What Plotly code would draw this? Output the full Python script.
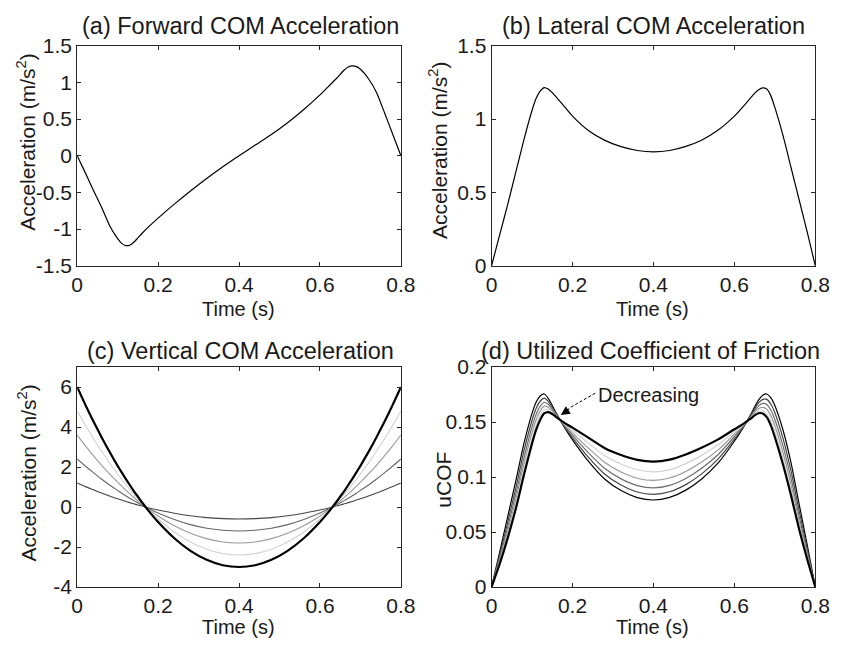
import plotly.graph_objects as go

# ---------------- data ----------------
time_s = [0, 0.02, 0.04, 0.06, 0.08, 0.10, 0.11, 0.12, 0.13, 0.14, 0.15, 0.16, 0.18, 0.20,
          0.24, 0.28, 0.32, 0.36, 0.40, 0.44, 0.48, 0.52, 0.56, 0.60, 0.62, 0.64, 0.65,
          0.66, 0.67, 0.68, 0.69, 0.70, 0.72, 0.74, 0.76, 0.78, 0.80]

forward_acc = [0, -0.23, -0.47, -0.70, -0.95, -1.13, -1.195, -1.225, -1.22, -1.18, -1.12, -1.06,
               -0.95, -0.85, -0.66, -0.48, -0.31, -0.15, 0.0, 0.145, 0.29, 0.45, 0.63, 0.83,
               0.94, 1.05, 1.11, 1.17, 1.21, 1.225, 1.215, 1.18, 1.05, 0.86, 0.58, 0.29, 0]

lateral_acc = [0, 0.21, 0.42, 0.64, 0.86, 1.06, 1.14, 1.19, 1.215, 1.205, 1.18, 1.15, 1.085,
               1.02, 0.92, 0.855, 0.812, 0.786, 0.776, 0.786, 0.814, 0.858, 0.925, 1.02, 1.08,
               1.145, 1.175, 1.20, 1.213, 1.205, 1.16, 1.08, 0.89, 0.67, 0.45, 0.23, 0]

# vertical COM acceleration, five scaled profiles (thin ones first, thick last)
vert_acc_20 = [1.2, 1.02, 0.86, 0.70, 0.55, 0.41, 0.35, 0.28, 0.22, 0.16, 0.10, 0.05, -0.06,
               -0.15, -0.31, -0.44, -0.53, -0.58, -0.60, -0.58, -0.53, -0.44, -0.31, -0.15,
               -0.06, 0.05, 0.10, 0.16, 0.22, 0.28, 0.35, 0.41, 0.55, 0.70, 0.86, 1.02, 1.2]
vert_acc_40 = [2.4, 2.05, 1.72, 1.40, 1.10, 0.83, 0.69, 0.56, 0.44, 0.32, 0.21, 0.10, -0.11,
               -0.30, -0.62, -0.88, -1.06, -1.16, -1.20, -1.16, -1.06, -0.88, -0.62, -0.30,
               -0.11, 0.10, 0.21, 0.32, 0.44, 0.56, 0.69, 0.83, 1.10, 1.40, 1.72, 2.05, 2.4]
vert_acc_60 = [3.6, 3.07, 2.57, 2.10, 1.66, 1.24, 1.04, 0.85, 0.66, 0.48, 0.31, 0.14, -0.17,
               -0.45, -0.94, -1.31, -1.58, -1.75, -1.80, -1.75, -1.58, -1.31, -0.94, -0.45,
               -0.17, 0.14, 0.31, 0.48, 0.66, 0.85, 1.04, 1.24, 1.66, 2.10, 2.57, 3.07, 3.6]
vert_acc_80 = [4.8, 4.10, 3.43, 2.80, 2.21, 1.65, 1.38, 1.13, 0.88, 0.64, 0.41, 0.19, -0.22,
               -0.60, -1.25, -1.75, -2.11, -2.33, -2.40, -2.33, -2.11, -1.75, -1.25, -0.60,
               -0.22, 0.19, 0.41, 0.64, 0.88, 1.13, 1.38, 1.65, 2.21, 2.80, 3.43, 4.10, 4.8]
vert_acc_100 = [6.0, 5.12, 4.29, 3.50, 2.76, 2.06, 1.73, 1.41, 1.10, 0.80, 0.52, 0.24, -0.28,
                -0.75, -1.56, -2.19, -2.64, -2.91, -3.00, -2.91, -2.64, -2.19, -1.56, -0.75,
                -0.28, 0.24, 0.52, 0.80, 1.10, 1.41, 1.73, 2.06, 2.76, 3.50, 4.29, 5.12, 6.0]

# utilized coefficient of friction, six profiles
ucof_0 = [0, 0.0317, 0.0643, 0.0967, 0.1306, 0.1579, 0.1680, 0.1737, 0.1755, 0.1716, 0.1651,
          0.1579, 0.1451, 0.1338, 0.1140, 0.0980, 0.0877, 0.0813, 0.0791, 0.0815, 0.0881,
          0.0985, 0.1128, 0.1325, 0.1437, 0.1565, 0.1637, 0.1701, 0.1744, 0.1755, 0.1723,
          0.1651, 0.1430, 0.1130, 0.0755, 0.0384, 0]
ucof_20 = [0, 0.0287, 0.0591, 0.0902, 0.1237, 0.1516, 0.1623, 0.1689, 0.1717, 0.1688, 0.1634,
           0.1572, 0.1459, 0.1359, 0.1177, 0.1026, 0.0927, 0.0864, 0.0843, 0.0866, 0.0931,
           0.1031, 0.1165, 0.1345, 0.1445, 0.1557, 0.1620, 0.1674, 0.1706, 0.1706, 0.1664,
           0.1585, 0.1354, 0.1055, 0.0694, 0.0347, 0]
ucof_40 = [0, 0.0263, 0.0547, 0.0846, 0.1174, 0.1457, 0.1569, 0.1643, 0.1680, 0.1661, 0.1617,
           0.1564, 0.1468, 0.1380, 0.1217, 0.1077, 0.0983, 0.0922, 0.0901, 0.0924, 0.0987,
           0.1082, 0.1205, 0.1367, 0.1453, 0.1550, 0.1603, 0.1647, 0.1669, 0.1660, 0.1609,
           0.1523, 0.1285, 0.0989, 0.0642, 0.0317, 0]
ucof_60 = [0, 0.0242, 0.0509, 0.0796, 0.1118, 0.1403, 0.1519, 0.1599, 0.1644, 0.1635, 0.1601,
           0.1557, 0.1476, 0.1402, 0.1260, 0.1132, 0.1046, 0.0989, 0.0969, 0.0991, 0.1050,
           0.1138, 0.1247, 0.1389, 0.1461, 0.1542, 0.1587, 0.1622, 0.1634, 0.1616, 0.1558,
           0.1466, 0.1223, 0.0931, 0.0598, 0.0292, 0]
ucof_80 = [0, 0.0224, 0.0476, 0.0752, 0.1066, 0.1352, 0.1472, 0.1558, 0.1611, 0.1610, 0.1584,
           0.1549, 0.1485, 0.1425, 0.1306, 0.1194, 0.1118, 0.1066, 0.1047, 0.1068, 0.1122,
           0.1199, 0.1293, 0.1411, 0.1470, 0.1535, 0.1571, 0.1597, 0.1601, 0.1574, 0.1510,
           0.1413, 0.1167, 0.0879, 0.0559, 0.0271, 0]
ucof_100 = [0, 0.0209, 0.0447, 0.0713, 0.1020, 0.1305, 0.1428, 0.1519, 0.1578, 0.1590, 0.1573,
            0.1545, 0.1493, 0.1449, 0.1356, 0.1262, 0.1200, 0.1156, 0.1140, 0.1158, 0.1205,
            0.1268, 0.1342, 0.1434, 0.1478, 0.1530, 0.1560, 0.1580, 0.1578, 0.1545, 0.1470,
            0.1364, 0.1116, 0.0833, 0.0525, 0.0252, 0]

x_tickvals = [0, 0.2, 0.4, 0.6, 0.8]
x_ticktext = ["0", "0.2", "0.4", "0.6", "0.8"]
ya_tickvals = [-1.5, -1, -0.5, 0, 0.5, 1, 1.5]
ya_ticktext = ["-1.5", "-1", "-0.5", "0", "0.5", "1", "1.5"]
yb_tickvals = [0, 0.5, 1, 1.5]
yb_ticktext = ["0", "0.5", "1", "1.5"]
yc_tickvals = [-4, -2, 0, 2, 4, 6]
yc_ticktext = ["-4", "-2", "0", "2", "4", "6"]
yd_tickvals = [0, 0.05, 0.1, 0.15, 0.2]
yd_ticktext = ["0", "0.05", "0.1", "0.15", "0.2"]

panel_titles = ["(a) Forward COM Acceleration", "(b) Lateral COM Acceleration",
                "(c) Vertical COM Acceleration", "(d) Utilized Coefficient of Friction"]

# ---------------- figure ----------------
W, H = 842, 653
FONT = "Liberation Sans, Arial, Helvetica, sans-serif"
TXT = "#1a1a1a"
AX = "#262626"
TICK_SIZE = 21
LABEL_SIZE = 20
TITLE_SIZE = 23.5

fig = go.Figure()


def line(x, y, xa, ya, color="black", width=1.2):
    fig.add_trace(go.Scatter(x=x, y=y, xaxis=xa, yaxis=ya, mode="lines",
                             line=dict(color=color, width=width, shape="spline", smoothing=0.6),
                             showlegend=False, hoverinfo="skip"))


line(time_s, forward_acc, "x", "y")
line(time_s, lateral_acc, "x2", "y2")

vc_series = [(vert_acc_20, "#454545", 1.1), (vert_acc_40, "#666666", 1.1),
             (vert_acc_60, "#9a9a9a", 1.1), (vert_acc_80, "#d2d2d2", 1.1),
             (vert_acc_100, "black", 2.2)]
for ys, c, w in vc_series:
    line(time_s, ys, "x3", "y3", c, w)

ud_series = [(ucof_0, "black", 1.2), (ucof_20, "#454545", 1.2), (ucof_40, "#6e6e6e", 1.2),
             (ucof_60, "#9a9a9a", 1.2), (ucof_80, "#d2d2d2", 1.2), (ucof_100, "black", 2.2)]
for ys, c, w in ud_series:
    line(time_s, ys, "x4", "y4", c, w)


def px_x(a, b):
    return [a / W, b / W]


def px_y(top, bottom):
    return [1 - bottom / H, 1 - top / H]


colL = px_x(73, 405)
colR = px_x(498, 830)
rowT = px_y(35, 263)
rowB = px_y(368, 596)

common = dict(showline=True, linecolor=AX, linewidth=1, mirror="allticks", ticks="inside",
              ticklen=4, tickcolor=AX, tickwidth=1, showgrid=False, zeroline=False,
              tickfont=dict(family=FONT, size=TICK_SIZE, color=TXT))

panels = [
    ("xaxis", "yaxis", "y", "x", colL, rowT, [-1.5, 1.5], ya_tickvals, ya_ticktext),
    ("xaxis2", "yaxis2", "y2", "x2", colR, rowT, [0, 1.5], yb_tickvals, yb_ticktext),
    ("xaxis3", "yaxis3", "y3", "x3", colL, rowB, [-4, 7], yc_tickvals, yc_ticktext),
    ("xaxis4", "yaxis4", "y4", "x4", colR, rowB, [0, 0.2], yd_tickvals, yd_ticktext),
]
lay = {}
for xk, yk, yanchor, xanchor, dx, dy, yr, ytv, ytt in panels:
    lay[xk] = dict(common, domain=dx, anchor=yanchor, range=[0, 0.8],
                   tickvals=x_tickvals, ticktext=x_ticktext)
    lay[yk] = dict(common, domain=dy, anchor=xanchor, range=yr,
                   tickvals=ytv, ticktext=ytt)

fig.update_layout(width=W, height=H, margin=dict(l=0, r=0, t=0, b=0),
                  paper_bgcolor="white", plot_bgcolor="white",
                  font=dict(family=FONT, color=TXT), **lay)

ann = []
# titles
title_pos = [(241, 15), (664, 15), (241, 351), (661, 351)]
for t, (cx, cy) in zip(panel_titles, title_pos):
    ann.append(dict(text=t, x=cx / W, y=1 - cy / H, xref="paper", yref="paper",
                    showarrow=False, xanchor="center", yanchor="middle",
                    font=dict(family=FONT, size=TITLE_SIZE, color=TXT)))
# x-axis titles
for cx, cy in [(238, 308), (663, 308), (238, 637), (663, 637)]:
    ann.append(dict(text="Time (s)", x=cx / W, y=1 - cy / H, xref="paper", yref="paper",
                    showarrow=False, xanchor="center", yanchor="middle",
                    font=dict(family=FONT, size=LABEL_SIZE, color=TXT)))
# y-axis titles
for txt, cx, cy in [("Acceleration (m/s<sup>2</sup>)", 21, 135),
                    ("Acceleration (m/s<sup>2</sup>)", 443, 143),
                    ("Acceleration (m/s<sup>2</sup>)", 22, 478),
                    ("uCOF", 449, 485)]:
    ann.append(dict(text=txt, x=cx / W, y=1 - cy / H, xref="paper", yref="paper",
                    showarrow=False, xanchor="center", yanchor="middle", textangle=-90,
                    font=dict(family=FONT, size=LABEL_SIZE + 1, color=TXT)))
# "Decreasing" annotation
ann.append(dict(text="Decreasing", x=0.258, y=0.1748, xref="x4", yref="y4",
                showarrow=False, xanchor="left", yanchor="middle",
                font=dict(family=FONT, size=20, color=TXT)))
ann.append(dict(text=" ", x=0.171, y=0.1565, xref="x4", yref="y4", showarrow=True,
                ax=10, ay=-6.5, arrowhead=2, arrowsize=1.8, arrowwidth=1, arrowcolor="black",
                font=dict(size=1)))
fig.update_layout(annotations=ann)
fig.add_shape(type="line", xref="x4", yref="y4", x0=0.256, y0=0.1762, x1=0.190, y1=0.1623,
              line=dict(color="black", width=1, dash="3px,2px"))

fig.write_html("out.html")
